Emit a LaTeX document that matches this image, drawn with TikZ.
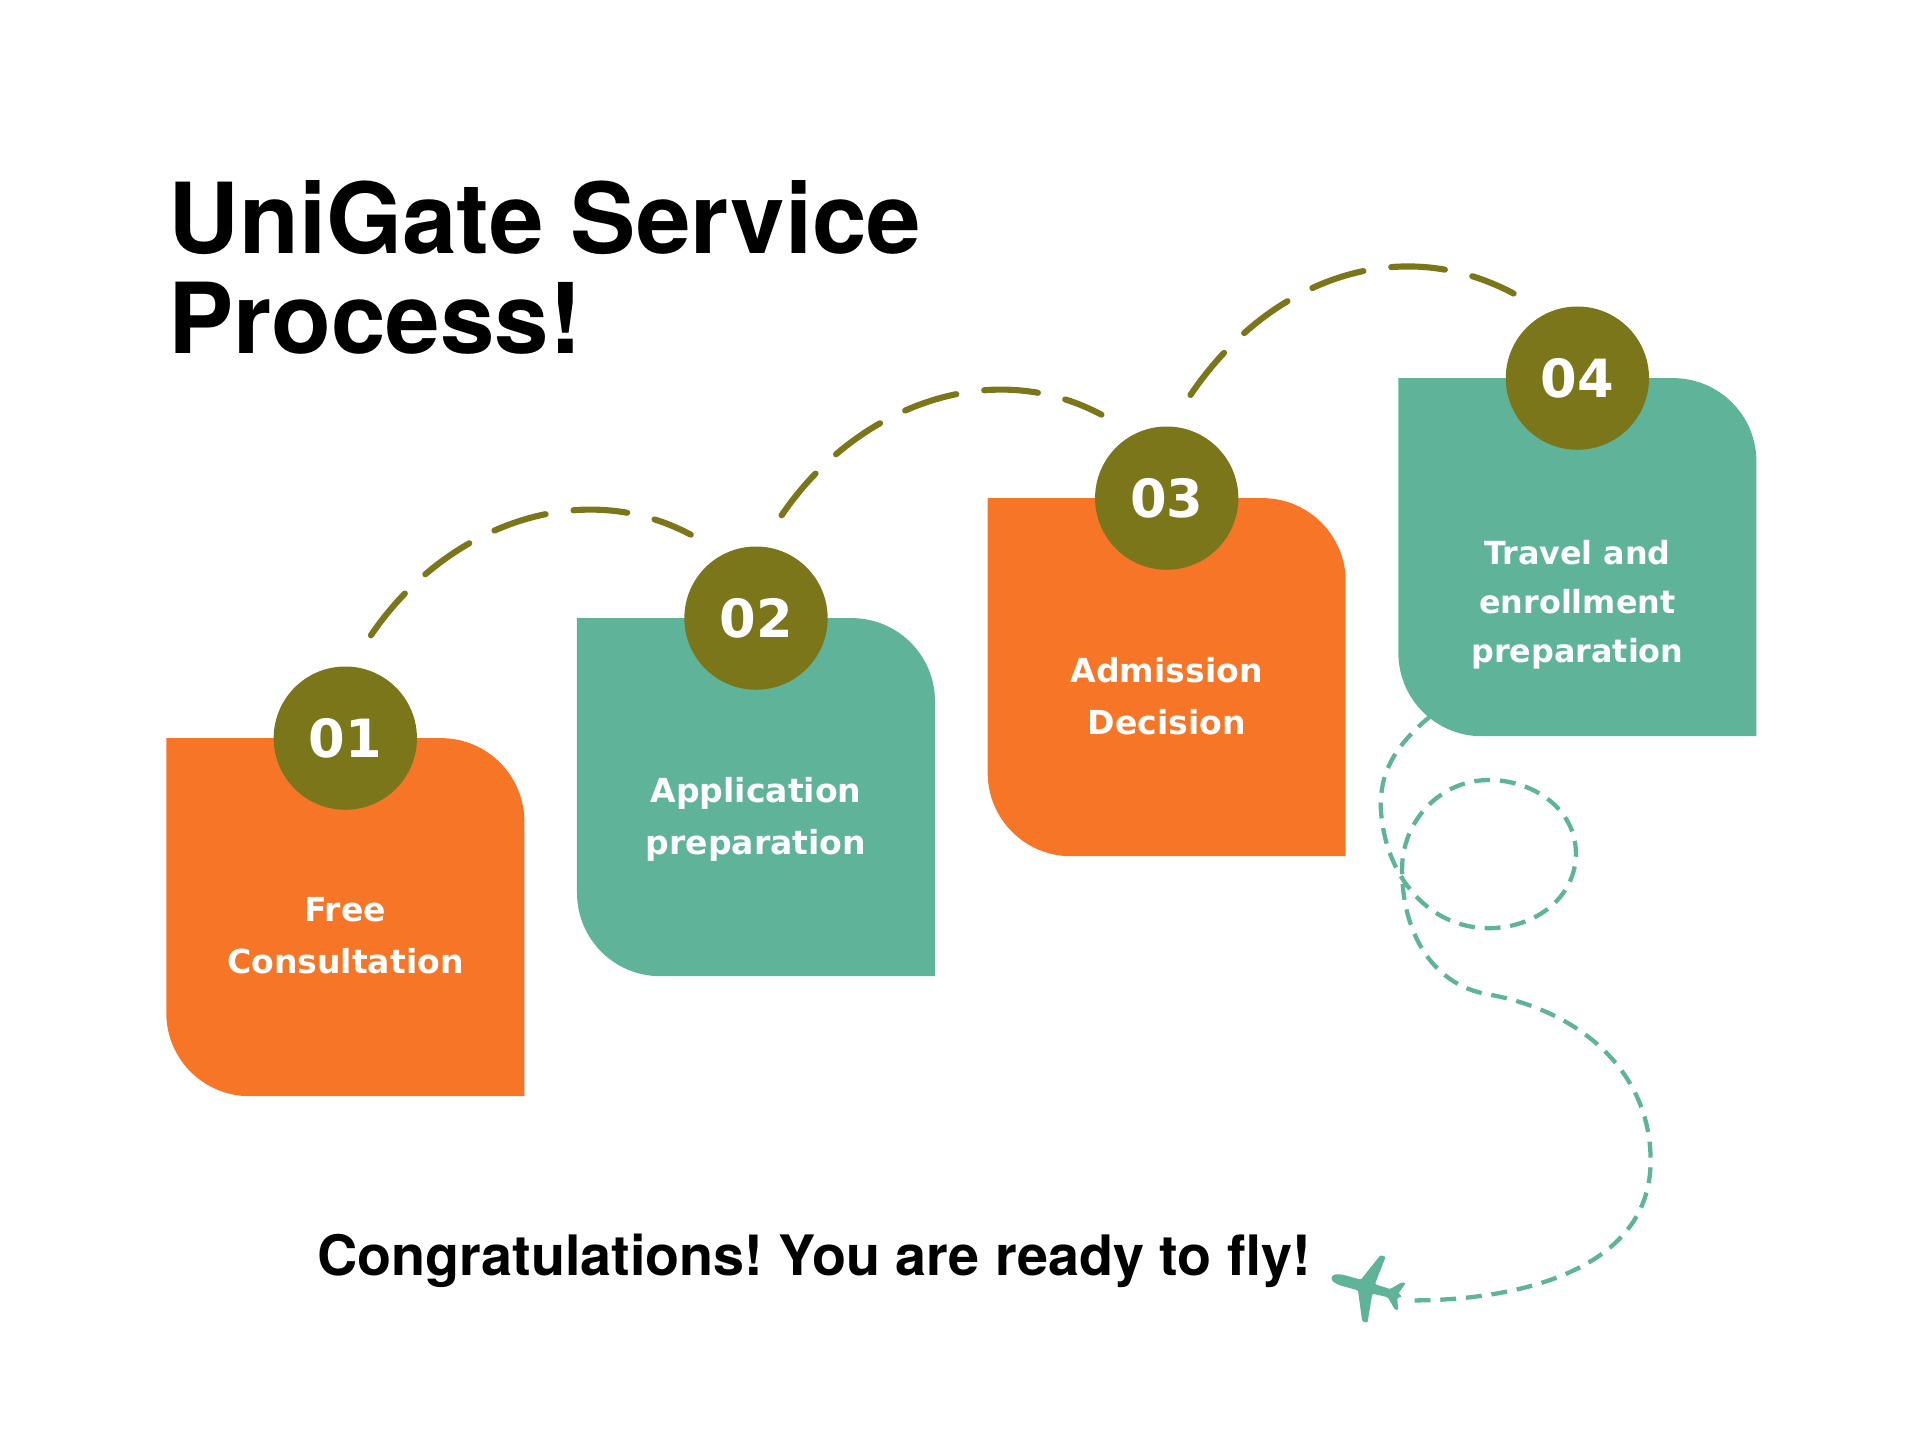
\documentclass[tikz,border=0pt]{standalone}
\usepackage{fontspec}
\setmainfont{DejaVu Sans}
\newfontfamily\headfont{TeX Gyre Heros}
\usetikzlibrary{positioning}
\definecolor{stepor}{HTML}{F77527}
\definecolor{stepgr}{HTML}{5EB398}
\definecolor{stepol}{HTML}{7A7619}
\frenchspacing

\begin{document}
\begin{tikzpicture}[x=1pt, y=1pt,
		stepbox/.style={rectangle, minimum width=292pt, minimum height=292pt, inner sep=0pt},
		numdot/.style={circle, fill=stepol, text=white, minimum size=117pt, inner sep=0pt, outer sep=28pt, font=\fontsize{43}{43}\selectfont\bfseries},
		steptext/.style={text=white, align=center, inner sep=0pt, font=\fontsize{27}{42}\selectfont\bfseries},
		hop/.style={stepol, line width=5pt, line cap=round, dash pattern=on 44pt off 23pt},
		trail/.style={stepgr, line width=3.5pt, dash pattern=on 13pt off 8pt},
		]
		\useasboundingbox (0,0) rectangle (1568,-1176);
		
		%Title
		\node[anchor=north west, inner sep=0pt, align=left, font=\headfont\fontsize{80}{82}\selectfont\bfseries] (title) at (137,-147) {UniGate Service\\Process!};
		
		%Boxes
		\node[stepbox]      (b1)       at (282,-749)             {};
		\node[stepbox]      (b2)       [right=43pt of b1, yshift=98pt] {};
		\node[stepbox]      (b3)       [right=43pt of b2, yshift=98pt] {};
		\node[stepbox]      (b4)       [right=43pt of b3, yshift=98pt] {};
		
		\fill[stepor] (b1.north west) -- (b1.north) [rounded corners=68pt] -- (b1.north east) -- (b1.east) [sharp corners] -- (b1.south east) -- (b1.south) [rounded corners=68pt] -- (b1.south west) -- (b1.west) [sharp corners] -- cycle;
		\fill[stepgr] (b2.north west) -- (b2.north) [rounded corners=68pt] -- (b2.north east) -- (b2.east) [sharp corners] -- (b2.south east) -- (b2.south) [rounded corners=68pt] -- (b2.south west) -- (b2.west) [sharp corners] -- cycle;
		\fill[stepor] (b3.north west) -- (b3.north) [rounded corners=68pt] -- (b3.north east) -- (b3.east) [sharp corners] -- (b3.south east) -- (b3.south) [rounded corners=68pt] -- (b3.south west) -- (b3.west) [sharp corners] -- cycle;
		\fill[stepgr] (b4.north west) -- (b4.north) [rounded corners=68pt] -- (b4.north east) -- (b4.east) [sharp corners] -- (b4.south east) -- (b4.south) [rounded corners=68pt] -- (b4.south west) -- (b4.west) [sharp corners] -- cycle;
		
		%Numbers
		\node[numdot]       (n1)       at (b1.north)             {01};
		\node[numdot]       (n2)       at (b2.north)             {02};
		\node[numdot]       (n3)       at (b3.north)             {03};
		\node[numdot]       (n4)       at (b4.north)             {04};
		
		%Texts
		\node[steptext]     (t1)       [below=130pt of b1.north] {Free\\Consultation};
		\node[steptext]     (t2)       [below=130pt of b2.north] {Application\\preparation};
		\node[steptext]     (t3)       [below=130pt of b3.north] {Admission\\Decision};
		\node[steptext, font=\fontsize{26}{40}\selectfont\bfseries] (t4) [below=132pt of b4.north] {Travel and\\enrollment\\preparation};
		
		%Hops
		\draw[hop] (n1.76) .. controls +(56:105) and +(152:105) .. (n2.128);
		\draw[hop] (n2.76) .. controls +(56:105) and +(152:105) .. (n3.128);
		\draw[hop] (n3.77) .. controls +(56:110) and +(152:110) .. (n4.127);
		
		%Flight
		\coordinate (lift) at (1168,-585);
		\coordinate (land) at (1153,-1062);
		\draw[trail] (lift) to[out=220, in=95] (1128,-665) to[out=275, in=180] (1216,-758) to[out=0, in=270] (1287,-697) to[out=90, in=0] (1216,-637) to[out=180, in=90] (1145,-710) to[out=270, in=170] (1215,-812) to[out=-10, in=90] (1348,-948) to[out=270, in=0] (land);
		\fill[stepgr, shift={(1116,-1051)}, rotate=164.6, rounded corners=1pt] (30,0) -- (28,3) -- (22,4.5) -- (6,4.5) -- (-4,28) -- (-8.5,28) -- (-6,4) -- (-19,3.5) -- (-27,11.5) -- (-30,11.5) -- (-26.5,2) -- (-30,0) -- (-26.5,-2) -- (-30,-11.5) -- (-27,-11.5) -- (-19,-3.5) -- (-6,-4) -- (-8.5,-28) -- (-4,-28) -- (6,-4.5) -- (22,-4.5) -- (28,-3) -- cycle;
		
		\node[anchor=base west, inner sep=0pt, font=\headfont\fontsize{45.5}{46}\selectfont\bfseries] (fly) at (259,-1042) {Congratulations! You are ready to fly!};
		\end{tikzpicture}
\end{document}
